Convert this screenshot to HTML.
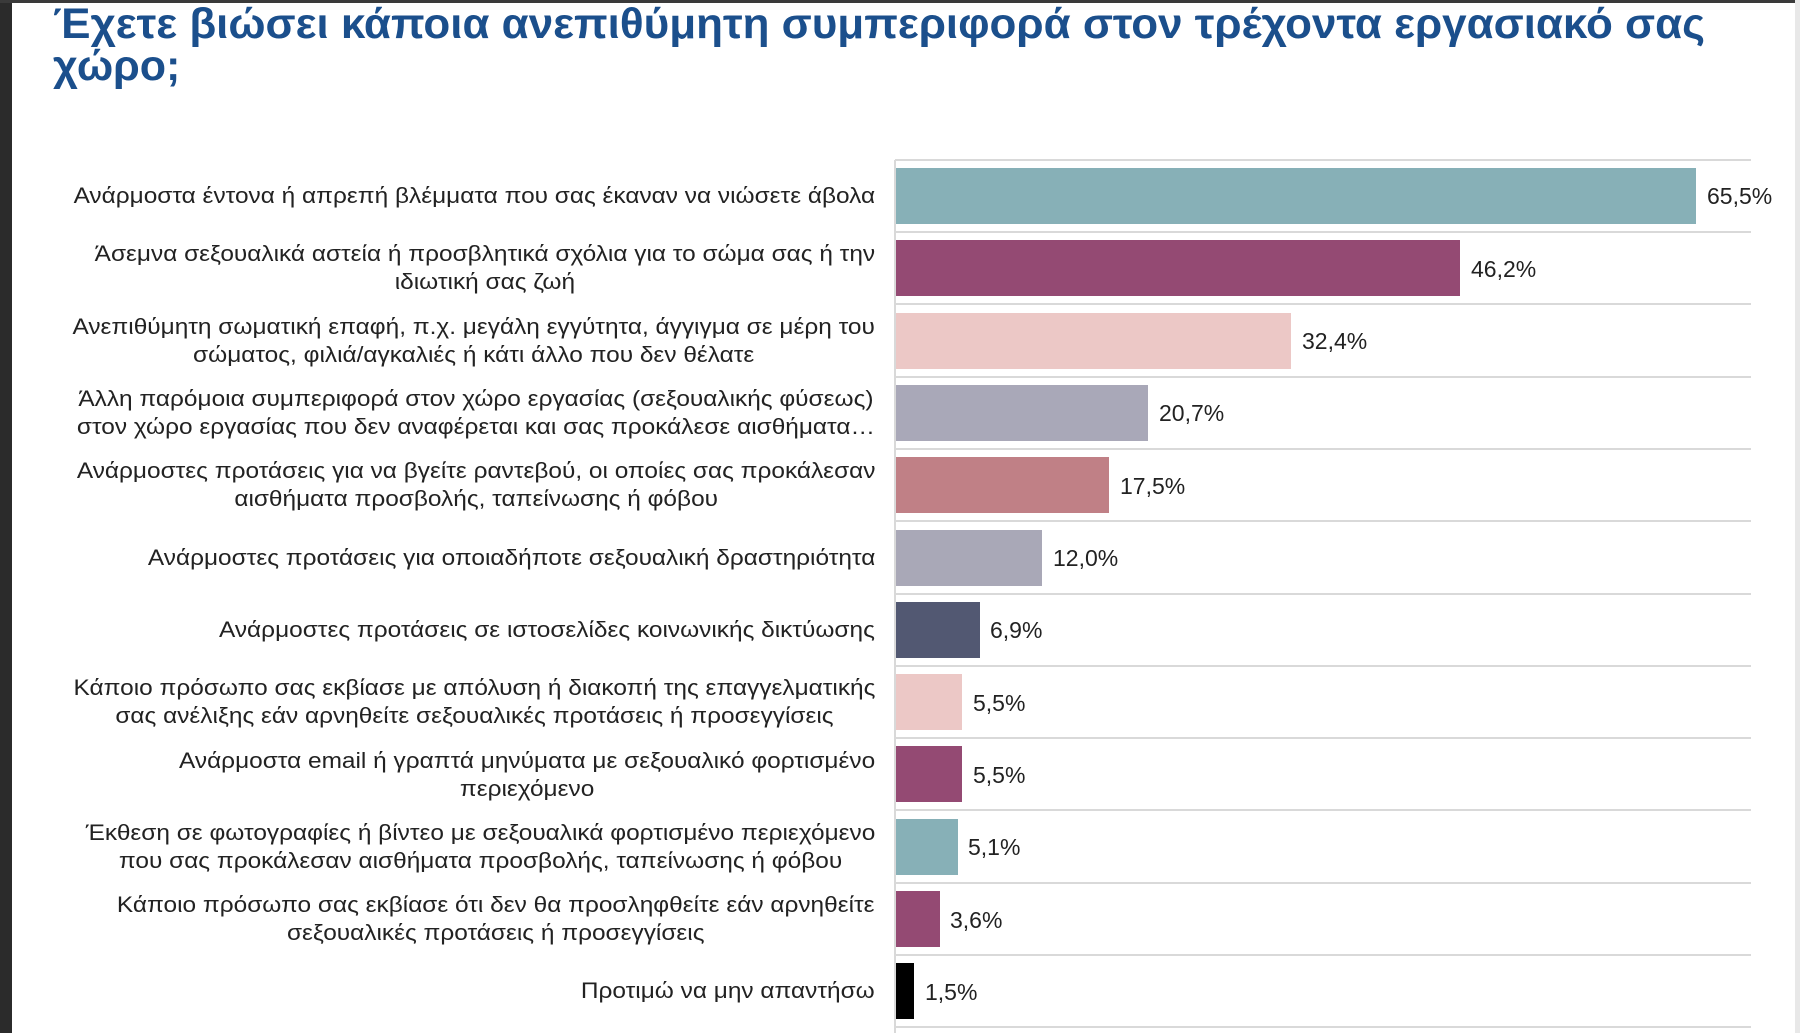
<!DOCTYPE html>
<html><head><meta charset="utf-8"><style>
html,body{margin:0;padding:0;background:#fff;}
body{position:relative;width:1800px;height:1033px;overflow:hidden;}
svg{display:block;position:absolute;left:0;top:0;}
text{font-family:"Liberation Sans",sans-serif;}
.lab{position:absolute;right:925px;height:72px;display:flex;align-items:center;justify-content:flex-end;
font-family:"Liberation Sans",sans-serif;font-size:22px;line-height:28px;color:#222;text-align:center;white-space:nowrap;
transform:scaleX(1.11);transform-origin:right center;}
</style></head><body>
<svg width="1800" height="1033" viewBox="0 0 1800 1033" xmlns="http://www.w3.org/2000/svg">
<rect x="0" y="0" width="1800" height="1033" fill="#fff"/>
<rect x="0" y="0" width="12" height="1033" fill="#2b2b2b"/>
<rect x="0" y="0" width="1800" height="3" fill="#3a3a3a"/>
<rect x="1795" y="0" width="5" height="1033" fill="#e8e8e8"/>
<g fill="#1b4f8c" font-weight="bold" font-size="43">
<text x="53" y="38" textLength="1652" lengthAdjust="spacingAndGlyphs">Έχετε βιώσει κάποια ανεπιθύμητη συμπεριφορά στον τρέχοντα εργασιακό σας</text>
<text x="53" y="80">χώρο;</text>
</g>
<g stroke="#d9d9d9" stroke-width="2">
<line x1="895" y1="160" x2="1751" y2="160"/>
<line x1="895" y1="232" x2="1751" y2="232"/>
<line x1="895" y1="304" x2="1751" y2="304"/>
<line x1="895" y1="377" x2="1751" y2="377"/>
<line x1="895" y1="449" x2="1751" y2="449"/>
<line x1="895" y1="521" x2="1751" y2="521"/>
<line x1="895" y1="594" x2="1751" y2="594"/>
<line x1="895" y1="666" x2="1751" y2="666"/>
<line x1="895" y1="738" x2="1751" y2="738"/>
<line x1="895" y1="810" x2="1751" y2="810"/>
<line x1="895" y1="883" x2="1751" y2="883"/>
<line x1="895" y1="955" x2="1751" y2="955"/>
<line x1="895" y1="1027" x2="1751" y2="1027"/>
<line x1="895" y1="160" x2="895" y2="1033"/>
</g>
<g>
<rect x="896" y="168" width="800" height="56" fill="#87b0b7"/>
<rect x="896" y="240" width="564" height="56" fill="#944a73"/>
<rect x="896" y="313" width="395" height="56" fill="#ecc8c6"/>
<rect x="896" y="385" width="252" height="56" fill="#a9a8b8"/>
<rect x="896" y="457" width="213" height="56" fill="#c08086"/>
<rect x="896" y="530" width="146" height="56" fill="#a9a8b7"/>
<rect x="896" y="602" width="84" height="56" fill="#525872"/>
<rect x="896" y="674" width="66" height="56" fill="#ecc8c6"/>
<rect x="896" y="746" width="66" height="56" fill="#944a73"/>
<rect x="896" y="819" width="62" height="56" fill="#87b0b7"/>
<rect x="896" y="891" width="44" height="56" fill="#944a73"/>
<rect x="896" y="963" width="18" height="56" fill="#000"/>
</g>
<g font-size="23" fill="#222">
<text x="1707" y="204">65,5%</text>
<text x="1471" y="277">46,2%</text>
<text x="1302" y="349">32,4%</text>
<text x="1159" y="421">20,7%</text>
<text x="1120" y="494">17,5%</text>
<text x="1053" y="566">12,0%</text>
<text x="990" y="638">6,9%</text>
<text x="973" y="711">5,5%</text>
<text x="973" y="783">5,5%</text>
<text x="968" y="855">5,1%</text>
<text x="950" y="928">3,6%</text>
<text x="925" y="1000">1,5%</text>
</g>
</svg>
<div class="lab" style="top:160px"><div>Ανάρμοστα έντονα ή απρεπή βλέμματα που σας έκαναν να νιώσετε άβολα</div></div>
<div class="lab" style="top:232px"><div>Άσεμνα σεξουαλικά αστεία ή προσβλητικά σχόλια για το σώμα σας ή την<br>ιδιωτική σας ζωή</div></div>
<div class="lab" style="top:305px"><div>Ανεπιθύμητη σωματική επαφή, π.χ. μεγάλη εγγύτητα, άγγιγμα σε μέρη του<br>σώματος, φιλιά/αγκαλιές ή κάτι άλλο που δεν θέλατε</div></div>
<div class="lab" style="top:377px"><div>Άλλη παρόμοια συμπεριφορά στον χώρο εργασίας (σεξουαλικής φύσεως)<br>στον χώρο εργασίας που δεν αναφέρεται και σας προκάλεσε αισθήματα…</div></div>
<div class="lab" style="top:449px"><div>Ανάρμοστες προτάσεις για να βγείτε ραντεβού, οι οποίες σας προκάλεσαν<br>αισθήματα προσβολής, ταπείνωσης ή φόβου</div></div>
<div class="lab" style="top:522px"><div>Ανάρμοστες προτάσεις για οποιαδήποτε σεξουαλική δραστηριότητα</div></div>
<div class="lab" style="top:594px"><div>Ανάρμοστες προτάσεις σε ιστοσελίδες κοινωνικής δικτύωσης</div></div>
<div class="lab" style="top:666px"><div>Κάποιο πρόσωπο σας εκβίασε με απόλυση ή διακοπή της επαγγελματικής<br>σας ανέλιξης εάν αρνηθείτε σεξουαλικές προτάσεις ή προσεγγίσεις</div></div>
<div class="lab" style="top:739px"><div>Ανάρμοστα email ή γραπτά μηνύματα με σεξουαλικό φορτισμένο<br>περιεχόμενο</div></div>
<div class="lab" style="top:811px"><div>Έκθεση σε φωτογραφίες ή βίντεο με σεξουαλικά φορτισμένο περιεχόμενο<br>που σας προκάλεσαν αισθήματα προσβολής, ταπείνωσης ή φόβου</div></div>
<div class="lab" style="top:883px"><div>Κάποιο πρόσωπο σας εκβίασε ότι δεν θα προσληφθείτε εάν αρνηθείτε<br>σεξουαλικές προτάσεις ή προσεγγίσεις</div></div>
<div class="lab" style="top:955px"><div>Προτιμώ να μην απαντήσω</div></div>
</body></html>
